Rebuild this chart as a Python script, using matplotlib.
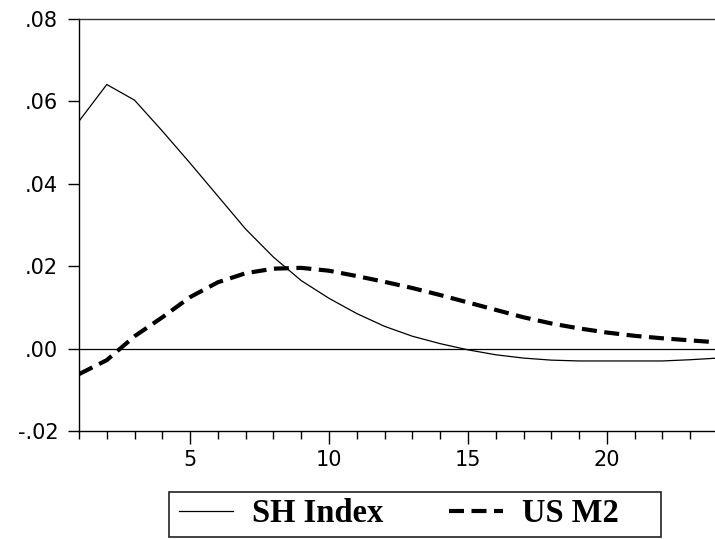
import numpy as np
import matplotlib
matplotlib.use("Agg")
import matplotlib.pyplot as plt
from matplotlib.patches import Rectangle
from matplotlib.ticker import FuncFormatter, MultipleLocator

periods = np.arange(1, 25)

sh_index = [0.0552, 0.0641, 0.0603, 0.0528, 0.0450, 0.0370, 0.0290, 0.0222,
            0.0165, 0.0122, 0.0085, 0.0054, 0.0030, 0.0012, -0.0003, -0.0015,
            -0.0023, -0.0028, -0.0030, -0.0030, -0.0030, -0.0030, -0.0027, -0.0023]

us_m2 = [-0.0062, -0.0028, 0.0030, 0.0076, 0.0125, 0.0161, 0.0183, 0.0194,
         0.0196, 0.0189, 0.0176, 0.0162, 0.0147, 0.0130, 0.0112, 0.0094,
         0.0076, 0.0061, 0.0049, 0.0039, 0.0031, 0.0025, 0.0020, 0.0015]

y_ticks = [-0.02, 0.00, 0.02, 0.04, 0.06, 0.08]
x_ticks = [5, 10, 15, 20]

fig = plt.figure(figsize=(7.15, 5.39), dpi=100)
ax = fig.add_axes([79/715, 1 - 431/539, (718 - 79)/715, (431 - 19)/539])

l1, = ax.plot(periods, sh_index, color="black", lw=0.9)
l2, = ax.plot(periods, us_m2, color="black", lw=3.0, linestyle=(0, (3.6, 1.8)))
ax.axhline(0, color="black", lw=0.9)

ax.set_xlim(1, 24)
ax.set_ylim(-0.02, 0.08)
ax.set_yticks(y_ticks)
ax.set_xticks(x_ticks)
ax.xaxis.set_minor_locator(MultipleLocator(1))

def fmt(v, pos):
    s = "%.2f" % v
    return s.replace("0.", ".", 1)

ax.yaxis.set_major_formatter(FuncFormatter(fmt))
ax.spines["right"].set_visible(False)
for s in ["left", "top", "bottom"]:
    ax.spines[s].set_linewidth(1.0)
ax.spines["top"].set_color("#333333")

ax.tick_params(axis="y", which="major", direction="out", length=8, width=1,
               pad=7, labelsize=15)
ax.tick_params(axis="x", which="major", direction="out", length=9, width=1,
               pad=5, labelsize=15)
ax.tick_params(axis="x", which="minor", direction="out", length=6, width=1)
for lab in ax.get_xticklabels() + ax.get_yticklabels():
    lab.set_family("DejaVu Sans")

# legend box drawn by hand (it has extra room on the right)
box = Rectangle((169/715, 1 - 537/539), (661 - 169)/715, 45/539,
                transform=fig.transFigure, fill=False, edgecolor="#222222",
                lw=1.2)
fig.patches.append(box)

leg = fig.legend([l1, l2], ["SH Index", "US M2"], ncol=2, loc="center left",
                 bbox_to_anchor=(179/715, 1 - 514/539), frameon=False,
                 prop={"family": "Liberation Serif", "weight": "bold", "size": 23.5},
                 handlelength=1.65, handletextpad=0.6, columnspacing=2.0,
                 borderpad=0, borderaxespad=0)

fig.savefig("out.png", dpi=100)
